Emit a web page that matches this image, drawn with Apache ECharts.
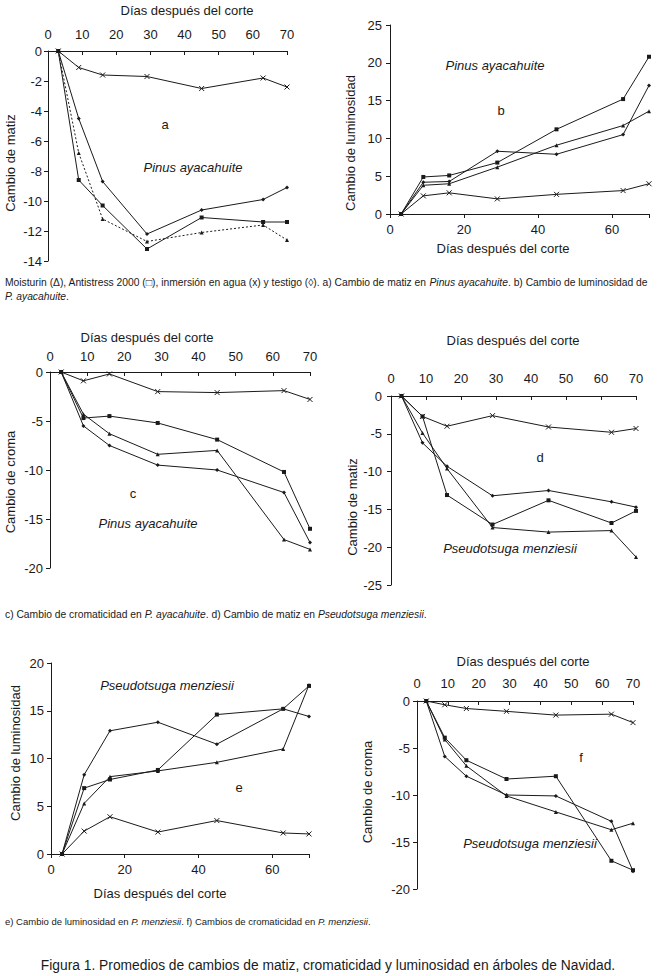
<!DOCTYPE html>
<html>
<head>
<meta charset="utf-8">
<script src="https://cdn.jsdelivr.net/npm/echarts@6/dist/echarts.min.js"></script>
<style>html,body{margin:0;padding:0;background:#fff;}#c{width:657px;height:976px;}</style>
</head>
<body>
<div id="c"></div>
<script>
// ---- data ----
const days = [3, 9, 16, 29, 45, 63, 70];

// a) Cambio de matiz, Pinus ayacahuite
const aWater      = [0, -1.1, -1.6, -1.7, -2.5, -1.8, -2.4];
const aTestigo    = [0, -4.5, -8.7, -12.2, -10.6, -9.9, -9.1];
const aAntistress = [0, -8.6, -10.3, -13.2, -11.1, -11.4, -11.4];
const aMoisturin  = [0, -6.8, -11.2, -12.7, -12.1, -11.6, -12.6];

// b) Cambio de luminosidad, Pinus ayacahuite
const bWater      = [0, 2.4, 2.8, 2.0, 2.6, 3.1, 4.0];
const bTestigo    = [0, 4.2, 4.3, 8.3, 7.9, 10.5, 17.0];
const bAntistress = [0, 4.9, 5.1, 6.8, 11.2, 15.2, 20.8];
const bMoisturin  = [0, 3.8, 4.0, 6.2, 9.1, 11.7, 13.6];

// c) Cambio de croma, Pinus ayacahuite
const cWater      = [0, -0.9, -0.2, -2.0, -2.1, -1.9, -2.8];
const cAntistress = [0, -4.7, -4.5, -5.2, -6.9, -10.2, -16.0];
const cMoisturin  = [0, -4.3, -6.3, -8.4, -8.0, -17.1, -18.1];
const cTestigo    = [0, -5.5, -7.5, -9.5, -10.0, -12.3, -17.4];

// d) Cambio de matiz, Pseudotsuga menziesii
const dWater      = [0, -2.7, -4.0, -2.6, -4.1, -4.8, -4.3];
const dAntistress = [0, -2.7, -13.1, -17.0, -13.8, -16.8, -15.2];
const dMoisturin  = [0, -4.9, -9.6, -17.4, -18.0, -17.8, -21.3];
const dTestigo    = [0, -6.2, -9.3, -13.2, -12.5, -14.0, -14.7];

// e) Cambio de luminosidad, Pseudotsuga menziesii
const eWater      = [0, 2.4, 3.9, 2.3, 3.5, 2.2, 2.1];
const eTestigo    = [0, 8.3, 12.9, 13.8, 11.5, 15.2, 14.4];
const eAntistress = [0, 6.9, 7.8, 8.8, 14.6, 15.2, 17.6];
const eMoisturin  = [0, 5.3, 8.1, 8.7, 9.6, 11.0, 17.7];

// f) Cambio de croma, Pseudotsuga menziesii
const fWater      = [0, -0.4, -0.8, -1.1, -1.5, -1.4, -2.3];
const fAntistress = [0, -3.9, -6.3, -8.3, -8.0, -17.0, -18.0];
const fMoisturin  = [0, -4.1, -6.9, -10.1, -11.8, -13.7, -13.0];
const fTestigo    = [0, -5.9, -8.0, -10.0, -10.1, -12.8, -18.1];

// ---- rendering ----
const FONT = 'Liberation Sans, Arial, sans-serif';
const INK = '#1a1a1a';
const chart = echarts.init(document.getElementById('c'), null, {renderer: 'svg'});

const grids = [
  {left: 48,  top: 51,  width: 239, height: 210},  // a
  {left: 390, top: 25,  width: 259, height: 189},  // b
  {left: 50,  top: 372, width: 260, height: 196},  // c
  {left: 391, top: 396, width: 245, height: 189},  // d
  {left: 51,  top: 663, width: 258, height: 191},  // e
  {left: 417, top: 701, width: 216, height: 188}   // f
];

function xAx(gi, top, margin) {
  return {
    type: 'value', gridIndex: gi, min: 0, max: 70, interval: top ? 10 : 20,
    position: top ? 'top' : 'bottom',
    axisLine: {onZero: false, lineStyle: {color: INK, width: 1}},
    axisTick: {show: true, inside: top, length: 4, lineStyle: {color: INK}},
    splitLine: {show: false},
    axisLabel: {color: INK, fontSize: 13, fontFamily: FONT, margin: margin,
      formatter: top ? null : (v => (v === 70 ? '' : String(v)))}
  };
}
function yAx(gi, min, max, interval, margin) {
  return {
    type: 'value', gridIndex: gi, min: min, max: max, interval: interval,
    axisLine: {show: true, onZero: false, lineStyle: {color: INK, width: 1}},
    axisTick: {show: true, length: 4, lineStyle: {color: INK}},
    splitLine: {show: false},
    axisLabel: {color: INK, fontSize: 13, fontFamily: FONT, margin: margin}
  };
}

const X_PATH = 'path://M0,0L10,10M10,0L0,10';
function ser(gi, vals, kind, dotted) {
  const sym = {x: X_PATH, sq: 'rect', tri: 'triangle', dia: 'diamond'}[kind];
  return {
    type: 'line', xAxisIndex: gi, yAxisIndex: gi,
    data: days.map((d, i) => [d, vals[i]]),
    symbol: sym, symbolSize: kind === 'x' ? 5 : 4, showSymbol: true,
    lineStyle: {color: INK, width: 1, type: dotted ? [2, 2] : 'solid'},
    itemStyle: {color: INK, borderColor: INK, borderWidth: kind === 'x' ? 1 : 0},
    animation: false, silent: true
  };
}

function txt(x, y, text, size, italic, rot) {
  return {
    type: 'text', x: x, y: y, rotation: rot ? Math.PI / 2 : 0,
    style: {text: text, fill: INK, fontSize: size, fontFamily: FONT,
      fontStyle: italic ? 'italic' : 'normal', align: 'center', verticalAlign: 'middle'}
  };
}
function cap(x, y, text, size, align) {
  return {
    type: 'text', x: x, y: y,
    style: {text: text, fill: INK, fontSize: size, fontFamily: FONT,
      align: align || 'left', verticalAlign: 'middle',
      rich: {i: {fontStyle: 'italic', fontSize: size, fontFamily: FONT, fill: INK}}}
  };
}

const option = {
  backgroundColor: '#fff',
  animation: false,
  grid: grids,
  xAxis: [xAx(0, true, 10), xAx(1, false, 9), xAx(2, true, 9), xAx(3, true, 11), xAx(4, false, 9), xAx(5, true, 11)],
  yAxis: [yAx(0, -14, 0, 2, 6), yAx(1, 0, 25, 5, 8), yAx(2, -20, 0, 5, 7), yAx(3, -25, 0, 5, 9), yAx(4, 0, 20, 5, 7), yAx(5, -20, 0, 5, 7)],
  series: [
    ser(0, aWater, 'x'), ser(0, aTestigo, 'dia'), ser(0, aAntistress, 'sq'), ser(0, aMoisturin, 'tri', true),
    ser(1, bWater, 'x'), ser(1, bTestigo, 'dia'), ser(1, bAntistress, 'sq'), ser(1, bMoisturin, 'tri'),
    ser(2, cWater, 'x'), ser(2, cAntistress, 'sq'), ser(2, cMoisturin, 'tri'), ser(2, cTestigo, 'dia'),
    ser(3, dWater, 'x'), ser(3, dAntistress, 'sq'), ser(3, dMoisturin, 'tri'), ser(3, dTestigo, 'dia'),
    ser(4, eWater, 'x'), ser(4, eTestigo, 'dia'), ser(4, eAntistress, 'sq'), ser(4, eMoisturin, 'tri'),
    ser(5, fWater, 'x'), ser(5, fAntistress, 'sq'), ser(5, fMoisturin, 'tri'), ser(5, fTestigo, 'dia')
  ],
  graphic: [
    // axis titles
    txt(187, 10, 'Días después del corte', 13), txt(10, 163, 'Cambio de matiz', 13, false, true),
    txt(503, 248, 'Días después del corte', 13), txt(350, 143, 'Cambio de luminosidad', 13, false, true),
    txt(147, 337, 'Días después del corte', 13), txt(10, 482, 'Cambio de croma', 13, false, true),
    txt(513, 340, 'Días después del corte', 13), txt(352, 507, 'Cambio de matiz', 13, false, true),
    txt(160, 893, 'Días después del corte', 13), txt(15, 753, 'Cambio de luminosidad', 13, false, true),
    txt(523, 661, 'Días después del corte', 13), txt(367, 792, 'Cambio de croma', 13, false, true),
    // annotations
    txt(165, 124, 'a', 13), txt(193, 167, 'Pinus ayacahuite', 13, true),
    txt(501, 110, 'b', 13), txt(495, 65, 'Pinus ayacahuite', 13, true),
    txt(133, 493, 'c', 13), txt(148, 523, 'Pinus ayacahuite', 13, true),
    txt(540, 457, 'd', 13), txt(510, 548, 'Pseudotsuga menziesii', 13, true),
    txt(239, 787, 'e', 13), txt(167, 685, 'Pseudotsuga menziesii', 13, true),
    txt(581, 757, 'f', 13), txt(530, 843, 'Pseudotsuga menziesii', 13, true),
    // captions
    cap(5, 282, 'Moisturin (Δ), Antistress 2000 (□), inmersión en agua (x) y testigo (◊). a) Cambio de matiz en {i|Pinus ayacahuite}. b) Cambio de luminosidad de', 10.3),
    cap(5, 296, '{i|P. ayacahuite}.', 10.3),
    cap(5, 614, 'c) Cambio de cromaticidad en {i|P. ayacahuite}. d) Cambio de matiz en {i|Pseudotsuga menziesii}.', 10.3),
    cap(5, 921, 'e) Cambio de luminosidad en {i|P. menziesii}. f) Cambios de cromaticidad en {i|P. menziesii}.', 9.5),
    cap(328, 965, 'Figura 1. Promedios de cambios de matiz, cromaticidad y luminosidad en árboles de Navidad.', 13.8, 'center')
  ]
};
chart.setOption(option);
</script>
</body>
</html>
